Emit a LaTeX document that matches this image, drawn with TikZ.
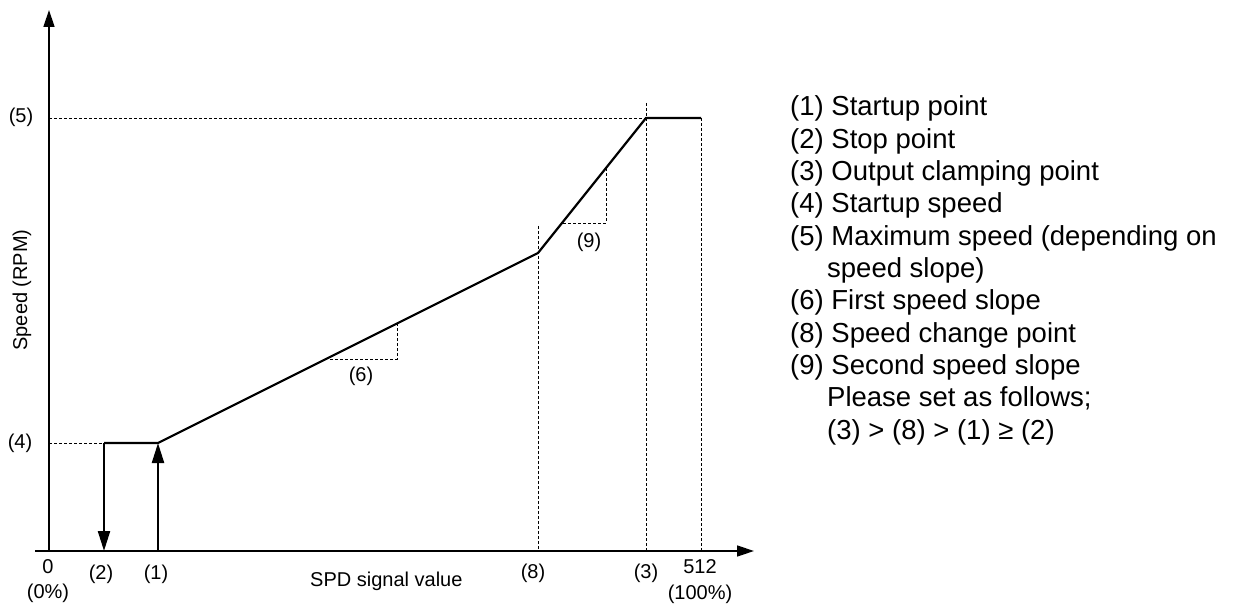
\documentclass[tikz,border=0pt]{standalone}
\usepackage{fontspec}
\setmainfont{Liberation Sans}
\usetikzlibrary{arrows.meta}

\begin{document}
\begin{tikzpicture}[x=1pt,y=-1pt,
		axis/.style={line width=1.4pt,-{Triangle[length=17pt,width=11pt]}},
		curve/.style={line width=2.2pt,line join=miter},
		jump/.style={line width=2.2pt,-{Triangle[length=20pt,width=12pt]}},
		guide/.style={line width=0.9pt,dash pattern=on 3pt off 2pt},
		lbl/.style={inner sep=0pt,font=\fontsize{20}{24}\selectfont},
		legend/.style={inner sep=0pt,anchor=base west,font=\fontsize{27.5}{32}\selectfont}]
	\useasboundingbox (0,0) rectangle (1235,604);
	
	% axes
	\coordinate (o) at (49,551);
	\coordinate (xs) at (35,551);
	\coordinate (xe) at (754,551);
	\coordinate (ye) at (49,10);
	\draw[axis] (xs) -- (xe);
	\draw[axis] (o) -- (ye);
	
	% points of the speed curve
	\coordinate (stop) at (104,443);
	\coordinate (start) at (158,443);
	\coordinate (chg) at (538,253);
	\coordinate (clamp) at (646,118);
	\coordinate (full) at (701,118);
	\coordinate (stopx) at (104,551);
	\coordinate (startx) at (158,551);
	
	% guide lines
	\draw[guide] (o |- stop) -- (stop);
	\draw[guide] (o |- clamp) -- (clamp);
	\draw[guide] (646,103) -- (clamp |- o);
	\draw[guide] (full) -- (full |- o);
	\draw[guide] (538,226) -- (chg |- o);
	
	% slope marks
	\draw[guide] (330,359) -- (397,359) -- (397,324);
	\draw[guide] (563,223) -- (606,223) -- (606,169);
	
	\draw[curve] (stop) -- (start) -- (chg) -- (clamp) -- (full);
	\draw[jump] (stop) -- (stopx);
	\draw[jump] (startx) -- (start);
	
	% labels
	\node[lbl] (l5) at (21,117) {(5)};
	\node[lbl] (l4) at (20,443) {(4)};
	\node[lbl,rotate=90] (ylab) at (22,290) {Speed (RPM)};
	\node[lbl] (zero) at (48,567) {0};
	\node[lbl] (zerop) at (48,593) {(0\%)};
	\node[lbl] (l2) at (101,574) {(2)};
	\node[lbl] (l1) at (156,574) {(1)};
	\node[lbl,anchor=west] (xlab) at (310,581) {SPD signal value};
	\node[lbl] (l8) at (533,573) {(8)};
	\node[lbl] (l3) at (646,573) {(3)};
	\node[lbl] (max) at (700,567) {512};
	\node[lbl] (maxp) at (700,594) {(100\%)};
	\node[lbl] (l6) at (361,376) {(6)};
	\node[lbl] (l9) at (589,242) {(9)};
	
	% legend
	\foreach \txt [count=\i from 0] in {{(1) Startup point},{(2) Stop point},
		{(3) Output clamping point},{(4) Startup speed},
		{(5) Maximum speed (depending on},{\hspace*{37pt}speed slope)},
		{(6) First speed slope},{(8) Speed change point},
		{(9) Second speed slope},{\hspace*{37pt}Please set as follows;},
		{\hspace*{37pt}(3) > (8) > (1) ≥ (2)}}
	\node[legend] (leg\i) at (790,116+\i*32.3) {\txt};
\end{tikzpicture}
\end{document}
